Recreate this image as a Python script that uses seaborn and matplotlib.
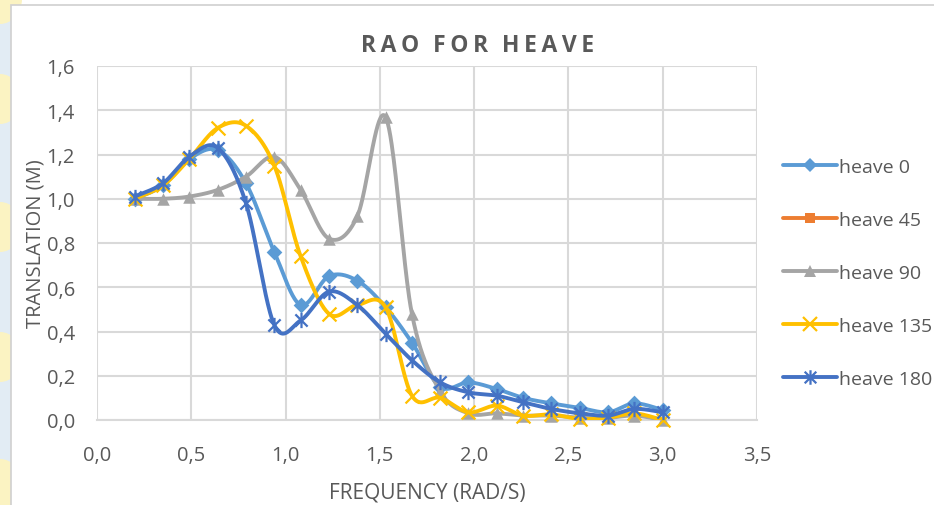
import numpy as np
import matplotlib
matplotlib.use("Agg")
import matplotlib.pyplot as plt
from matplotlib.path import Path
from matplotlib.lines import Line2D
from matplotlib.patches import Rectangle, Ellipse
import seaborn as sns

# Frequencies (rad/s) and heave RAO per wave heading (m/m)
frequency = [0.20, 0.35, 0.49, 0.64, 0.79, 0.94, 1.08, 1.23, 1.38, 1.53,
             1.67, 1.82, 1.97, 2.12, 2.26, 2.41, 2.56, 2.71, 2.85, 3.00]
heave_0 = [1.00, 1.06, 1.18, 1.22, 1.07, 0.76, 0.52, 0.65, 0.63, 0.51,
           0.35, 0.15, 0.17, 0.14, 0.10, 0.075, 0.055, 0.035, 0.075, 0.045]
heave_45 = []
heave_90 = [1.00, 1.00, 1.01, 1.04, 1.10, 1.19, 1.04, 0.82, 0.92, 1.37,
            0.48, 0.13, 0.03, 0.03, 0.02, 0.02, 0.01, 0.01, 0.02, 0.00]
heave_135 = [1.00, 1.06, 1.18, 1.32, 1.33, 1.15, 0.74, 0.48, 0.52, 0.51,
             0.11, 0.10, 0.035, 0.065, 0.02, 0.025, 0.005, 0.01, 0.03, 0.00]
heave_180 = [1.01, 1.07, 1.19, 1.23, 0.98, 0.43, 0.45, 0.58, 0.52, 0.39,
             0.27, 0.17, 0.125, 0.11, 0.08, 0.05, 0.03, 0.02, 0.05, 0.035]

labels = ["heave 0", "heave 45", "heave 90", "heave 135", "heave 180"]
series = [heave_0, heave_45, heave_90, heave_135, heave_180]
colors = ["#5B9BD5", "#ED7D31", "#A5A5A5", "#FFC000", "#4472C4"]

# asterisk marker: vertical stroke plus a cross
star = Path([(0, -1), (0, 1), (-0.8, -0.8), (0.8, 0.8), (-0.8, 0.8), (0.8, -0.8)],
            [Path.MOVETO, Path.LINETO, Path.MOVETO, Path.LINETO, Path.MOVETO, Path.LINETO])
markers = ["D", "s", "^", "x", star]
msizes = [8, 8, 9, 10, 11]


def smooth(xs, ys, n=40):
    """Cubic Bezier smoothing through every point (Catmull-Rom tangents)."""
    p = np.column_stack([xs, ys]).astype(float)
    if len(p) < 2:
        return p[:, 0], p[:, 1]
    ext = np.vstack([p[0], p, p[-1]])
    out = []
    t = np.linspace(0, 1, n)[:, None]
    for i in range(1, len(ext) - 2):
        p0, p1 = ext[i], ext[i + 1]
        c1 = p0 + (ext[i + 1] - ext[i - 1]) / 6.0
        c2 = p1 - (ext[i + 2] - ext[i]) / 6.0
        seg = ((1 - t) ** 3) * p0 + 3 * ((1 - t) ** 2) * t * c1 + 3 * (1 - t) * t ** 2 * c2 + t ** 3 * p1
        out.append(seg if i == 1 else seg[1:])
    out = np.vstack(out)
    return out[:, 0], out[:, 1]


sns.set_theme(style="white")
plt.rcParams["font.family"] = ["Open Sans", "DejaVu Sans"]
text_grey = "#595959"
grid_grey = "#D9D9D9"

fig = plt.figure(figsize=(9.34, 5.06), dpi=100)
fig.patch.set_facecolor("white")

# page background strip on the left of the chart frame
fig.patches.append(Rectangle((0, 0), 11 / 934, 1, transform=fig.transFigure,
                             facecolor="#E2ECF4", edgecolor="none", zorder=0))
for cy in [0, 100, 228, 358, 485]:
    fig.patches.append(Ellipse((0, 1 - cy / 506), 44 / 934, 50 / 506, transform=fig.transFigure,
                               facecolor="#FBF3C2", edgecolor="none", zorder=0.5))
fig.patches.append(Rectangle((11 / 934, -0.1), 1.0, 1 - 6 / 506 + 0.1, transform=fig.transFigure,
                             facecolor="white", edgecolor="#D0D0D0", linewidth=1.2, zorder=1))

ax = fig.add_axes([97 / 934, 1 - 421 / 506, 660 / 934, 354 / 506])
ax.set_facecolor("none")
ax.set_zorder(2)

for k, (lab, ys, col, mk, ms) in enumerate(zip(labels, series, colors, markers, msizes)):
    if len(ys) == 0:
        continue
    sx, sy = smooth(frequency, ys)
    sns.lineplot(x=sx, y=sy, sort=False, estimator=None, color=col, linewidth=2.8,
                 ax=ax, zorder=3 + 2 * k, legend=False)
    filled = mk in ("D", "s", "^")
    sns.scatterplot(x=frequency, y=ys, marker=mk, s=ms ** 2, color=col,
                    edgecolor=col, linewidth=0 if filled else 1.6,
                    ax=ax, zorder=4 + 2 * k, legend=False, clip_on=False)

ax.set_xlim(0, 3.5)
ax.set_ylim(0, 1.6)
ax.set_xticks(np.arange(0, 3.51, 0.5))
ax.set_yticks(np.arange(0, 1.61, 0.2))
ax.set_xticklabels([f"{v:.1f}".replace(".", ",") for v in np.arange(0, 3.51, 0.5)])
ax.set_yticklabels([f"{v:.1f}".replace(".", ",") for v in np.arange(0, 1.61, 0.2)])
ax.grid(True, color=grid_grey, linewidth=1.5)
ax.set_axisbelow(True)
for side in ["top", "right", "left"]:
    ax.spines[side].set_visible(False)
ax.spines["bottom"].set_color(grid_grey)
ax.spines["bottom"].set_linewidth(1.5)
ax.tick_params(axis="both", length=0, colors=text_grey, labelsize=14.5)
ax.tick_params(axis="x", pad=18)
ax.tick_params(axis="y", pad=16)

ax.set_xlabel("FREQUENCY (RAD/S)", color=text_grey, fontsize=15, labelpad=12)
ax.set_ylabel("TRANSLATION (M)", color=text_grey, fontsize=14.5, labelpad=1)

fig.text(478 / 934, 1 - 46 / 506, "R A O   F O R   H E A V E".replace(" ", "\u2009"),
         ha="center", va="center", fontsize=16.5, fontweight="bold", color=text_grey)

handles = [Line2D([0], [0], color=c, linewidth=2.8, marker=m, markersize=ms * 0.95,
                  markeredgewidth=0 if m in ("D", "s", "^") else 1.6,
                  markeredgecolor=c, markerfacecolor=c)
           for c, m, ms in zip(colors, markers, msizes)]
leg = fig.legend(handles, labels, loc="center left", bbox_to_anchor=(775 / 934, 1 - 274 / 506),
                 frameon=False, fontsize=14, handlelength=2.8, handletextpad=0.1,
                 labelspacing=1.8, borderaxespad=0)
for t in leg.get_texts():
    t.set_color(text_grey)

fig.savefig("out.png", dpi=100, facecolor="white")
